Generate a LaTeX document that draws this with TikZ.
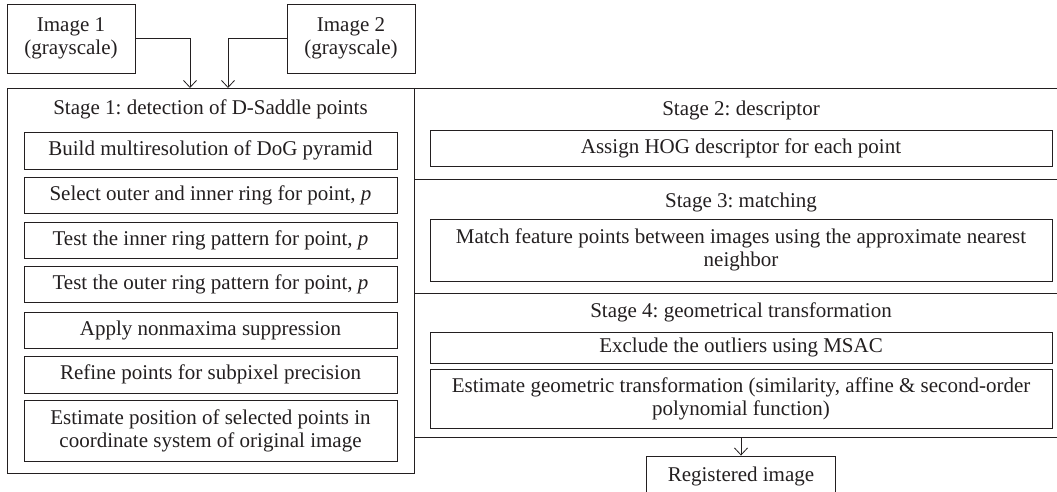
\documentclass[tikz,border=0pt]{standalone}
\usepackage{fontspec}
\setmainfont{Liberation Serif}
\usepackage{xcolor}
\usetikzlibrary{positioning, arrows.meta, calc}
\definecolor{ink}{HTML}{231F20}
\frenchspacing

\begin{document}
\begin{tikzpicture}[
    x=1pt, y=-1pt,
    line width=0.9pt, color=ink,
    txt/.style={font=\fontsize{21}{23}\selectfont, align=center, inner sep=0pt},
    stepBox/.style={txt, rectangle, draw, minimum width=373pt, minimum height=36pt},
    wideBox/.style={txt, rectangle, draw, minimum width=622pt, minimum height=36pt},
    inBox/.style={txt, rectangle, draw, minimum width=128pt, minimum height=69pt},
    arr/.style={-{Straight Barb[length=7pt, width=13pt]}, line width=0.8pt}
]
    \useasboundingbox (0,0) rectangle (1057,492);

    % Input images
    \node[inBox] (img1) at (71,38.5) {Image 1\\(grayscale)};
    \node[inBox] (img2) at (351,38.5) {Image 2\\(grayscale)};

    % Stage 1 frame
    \node[draw, rectangle, minimum width=407pt, minimum height=385pt, inner sep=0pt] (stage1) at (210.5,280.5) {};
    \node[txt] (s1title) at (210.5,109) {Stage 1: detection of D-Saddle points};
    \node[stepBox, minimum height=37pt] (build) at (210.5,150.5) {Build multiresolution of DoG pyramid};
    \node[stepBox] (select) at (210.5,195) {Select outer and inner ring for point, \textit{p}};
    \node[stepBox] (tinner) at (210.5,240) {Test the inner ring pattern for point, \textit{p}};
    \node[stepBox] (touter) at (210.5,284.5) {Test the outer ring pattern for point, \textit{p}};
    \node[stepBox] (nms) at (210.5,330) {Apply nonmaxima suppression};
    \node[stepBox, minimum height=37pt] (refine) at (210.5,374.5) {Refine points for subpixel precision};
    \node[stepBox, minimum height=61pt] (estpos) at (210.5,430.5) {Estimate position of selected points in\\coordinate system of original image};

    % Stages 2 to 4 frame
    \draw (1057,88) -- (414,88) -- (414,437) -- (1057,437);
    \draw (414,179) -- (1057,179);
    \draw (414,293) -- (1057,293);

    \node[txt] (s2title) at (741,110) {Stage 2: descriptor};
    \node[wideBox] (hog) at (741,148) {Assign HOG descriptor for each point};

    \node[txt] (s3title) at (741,202) {Stage 3: matching};
    \node[wideBox, minimum height=62pt] (match) at (741,250) {Match feature points between images using the approximate nearest\\neighbor};

    \node[txt] (s4title) at (741,312) {Stage 4: geometrical transformation};
    \node[wideBox, minimum height=31pt] (msac) at (741,347.5) {Exclude the outliers using MSAC};
    \node[wideBox, minimum height=59pt] (geo) at (741,398.5) {Estimate geometric transformation (similarity, affine \& second-order\\polynomial function)};

    % Output
    \node[txt, draw, rectangle, minimum width=189pt, minimum height=40pt] (reg) at (741,476) {Registered image};

    % Connectors
    \coordinate (in1) at (190,88);
    \coordinate (in2) at (228,88);
    \coordinate (out) at (741,437);
    \draw[arr] (img1.east) -| (in1);
    \draw[arr] (img2.west) -| (in2);
    \draw[arr] (out) -- (reg.north);

\end{tikzpicture}
\end{document}
